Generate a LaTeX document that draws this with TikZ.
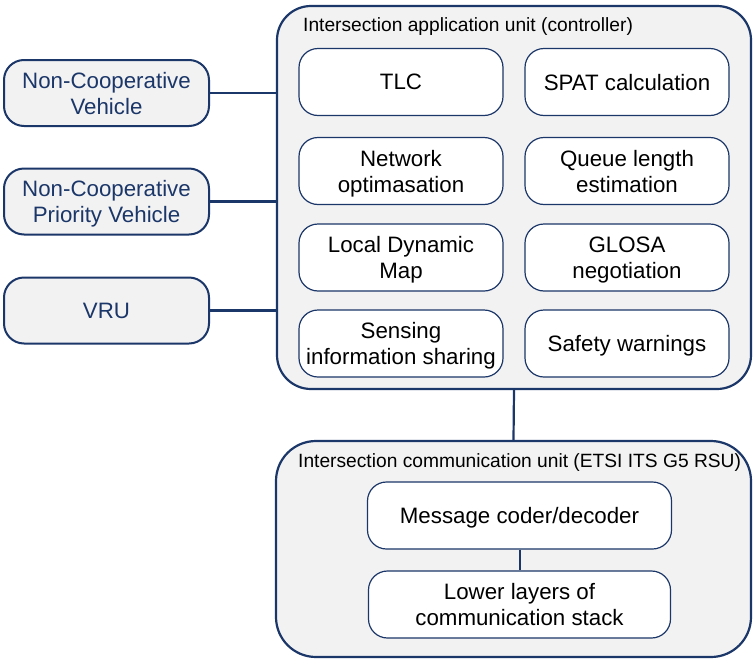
\documentclass[tikz,border=0pt]{standalone}
\usepackage{fontspec}
\setmainfont{Liberation Sans}
\definecolor{navy}{HTML}{1B3668}
\definecolor{panel}{HTML}{F2F2F2}
\begin{document}
\begin{tikzpicture}[x=1pt,y=-1pt,
  unitbox/.style={draw=navy, line width=2.2pt, fill=panel, rounded corners=34pt, inner sep=0pt},
  actor/.style={draw=navy, line width=2pt, fill=panel, rounded corners=20pt,
    minimum width=205pt, minimum height=66pt, text=navy, inner sep=0pt, text depth=0pt,
    font=\fontsize{22.3}{26}\selectfont, align=center},
  func/.style={draw=navy, line width=1.2pt, fill=white, rounded corners=19pt,
    minimum width=204pt, minimum height=67pt, inner sep=0pt, text depth=0pt,
    font=\fontsize{22.3}{26}\selectfont, align=center},
  link/.style={draw=navy, line width=2.2pt},
  unittitle/.style={font=\fontsize{19.2}{22}\selectfont, anchor=west, inner sep=0pt}]
\useasboundingbox (0,0) rectangle (753,659);

% application unit and its functions
\node[unitbox, minimum width=474pt, minimum height=383pt] (app) at (514,197.5) {};
\node[unittitle] (apptitle) at (303,27) {Intersection application unit (controller)};
\node[func] (tlc)   at (401,82)    {TLC};
\node[func] (spat)  at (627,82)    {SPAT calculation};
\node[func] (netop) at (401,171)   {Network\\optimasation};
\node[func] (queue) at (627,171)   {Queue length\\estimation};
\node[func] (ldm)   at (401,257.5) {Local Dynamic\\Map};
\node[func] (glosa) at (627,257.5) {GLOSA\\negotiation};
\node[func] (sense) at (401,343.5) {Sensing\\information sharing};
\node[func] (safe)  at (627,343.5) {Safety warnings};

% road users outside the system
\node[actor] (ncv)  at (106.5,93)    {Non-Cooperative\\Vehicle};
\node[actor] (ncpv) at (106.5,201.5) {Non-Cooperative\\Priority Vehicle};
\node[actor] (vru)  at (106.5,310.5) {VRU};
\foreach \a in {ncv,ncpv,vru}
  \draw[link] (\a.east) -- (\a.east -| app.west);

% communication unit
\node[unitbox, rounded corners=40pt, minimum width=475pt, minimum height=216pt] (comm) at (513.5,549) {};
\node[unittitle] (commtitle) at (298,463) {Intersection communication unit (ETSI ITS G5 RSU)};
\node[func, minimum width=304pt] (coder) at (519.5,515.5) {Message coder/decoder};
\node[func, minimum width=302pt] (lower) at (519.5,604.5) {Lower layers of\\communication stack};

\draw[link] (app.south) -- (comm.north);
\draw[draw=navy, line width=2pt] (coder.south) -- (lower.north);
\end{tikzpicture}
\end{document}
